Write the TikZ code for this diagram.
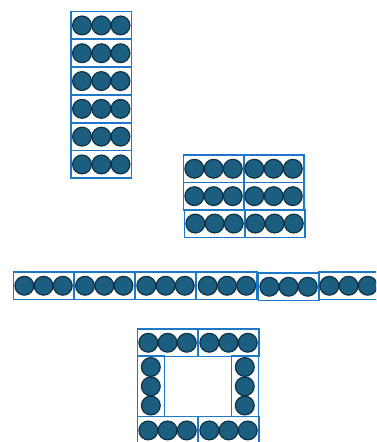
\documentclass[tikz,border=0pt]{standalone}
\usetikzlibrary{positioning}
\definecolor{dotfill}{HTML}{1B5E80}
\definecolor{dotline}{HTML}{0E3349}
\definecolor{framebl}{HTML}{1E78C8}

\tikzset{
  dot/.style={draw=dotline, fill=dotfill, line width=1.2pt},
  frame/.style={draw=framebl, line width=1.5pt},
  htile/.pic={
    \draw[frame] (0,0) rectangle (60.5,27.5);
    \foreach \dx in {11,30.3,49.5}
      \draw[dot] (\dx,13.75) circle[radius=9.4pt];
  },
  vtile/.pic={
    \draw[frame] (0,0) rectangle (27,60.5);
    \foreach \dy in {11,30.3,49.5}
      \draw[dot] (13.5,\dy) circle[radius=9.4pt];
  }
}

\begin{document}
\begin{tikzpicture}[x=1pt,y=-1pt]
\useasboundingbox (0,0) rectangle (376,442);
\clip (0,0) rectangle (376,442);

% column of six
\foreach \k in {0,...,5}
  \pic at (71,{11.7+27.8*\k}) {htile};

% block of six
\foreach \row/\sh in {0/0,1/0,2/1}
  \foreach \col in {0,1}
    \pic at ({183.3+\sh+60*\col},{155+27.4*\row}) {htile};

% row of six
\foreach \x/\sh in {13.3/0,74/0,135.3/0,196.7/0,258.3/1,318.3/0}
  \pic at (\x,{272+\sh}) {htile};

% square
\pic at (137.3,329) {htile};
\pic at (198.3,329) {htile};
\pic at (137.3,356) {vtile};
\pic at (231.3,356) {vtile};
\pic at (137.3,416.7) {htile};
\pic at (198.3,416.7) {htile};
\end{tikzpicture}
\end{document}
